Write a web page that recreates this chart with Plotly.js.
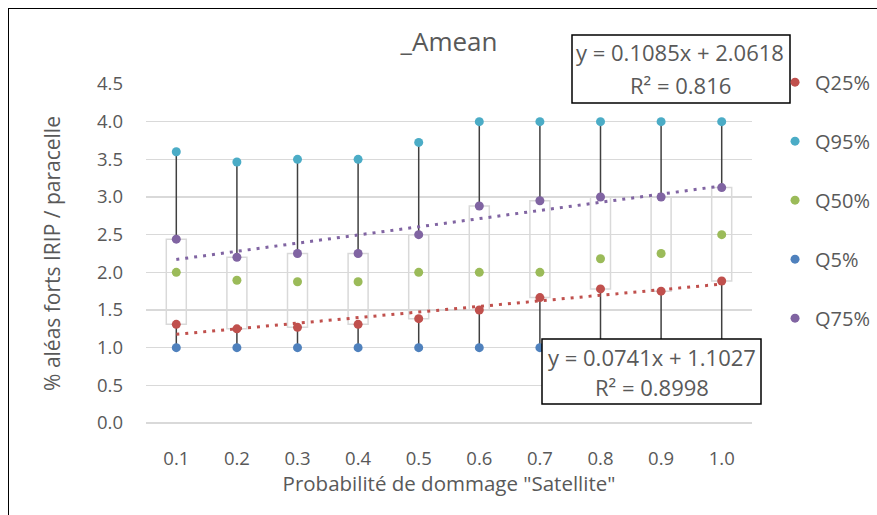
<!DOCTYPE html>
<html>
<head>
<meta charset="utf-8">
<script src="https://cdn.plot.ly/plotly-3.0.1.min.js"></script>
<style>
  html, body { margin: 0; padding: 0; background: #fff; }
  #wrap { position: relative; width: 877px; height: 515px; overflow: hidden; }
  #chart { width: 877px; height: 515px; }
  #frame { position: absolute; left: 8px; top: 8px; width: 900px; height: 540px;
           border: 1.5px solid #000; pointer-events: none; box-sizing: border-box; }
</style>
</head>
<body>
<div id="wrap">
  <div id="chart"></div>
  <div id="frame"></div>
</div>
<script>
// ---- data ----
const categories = ["0.1", "0.2", "0.3", "0.4", "0.5", "0.6", "0.7", "0.8", "0.9", "1.0"];
const q5  = [1.0, 1.0, 1.0, 1.0, 1.0, 1.0, 1.0, 1.0, 1.0, 1.0];
const q25 = [1.31, 1.25, 1.27, 1.31, 1.385, 1.50, 1.665, 1.78, 1.75, 1.885];
const q50 = [2.0, 1.895, 1.875, 1.875, 2.0, 2.0, 2.0, 2.18, 2.25, 2.5];
const q75 = [2.44, 2.20, 2.25, 2.25, 2.50, 2.88, 2.95, 3.0, 3.0, 3.125];
const q95 = [3.60, 3.465, 3.50, 3.50, 3.725, 4.0, 4.0, 4.0, 4.0, 4.0];
// Excel trendlines (x = category index 1..10), as printed on the chart
const trendNames = ["Q75%", "Q25%"];
const trendSlope = [0.1085, 0.0741];
const trendIntercept = [2.0618, 1.1027];
const trendR2 = ["0.816", "0.8998"];
const seriesNames = ["Q25%", "Q95%", "Q50%", "Q5%", "Q75%"];

// ---- styling ----
const col = { "Q25%": "#C0504D", "Q95%": "#4BACC6", "Q50%": "#9BBB59", "Q5%": "#4F81BD", "Q75%": "#8064A2" };
const seriesData = { "Q25%": q25, "Q95%": q95, "Q50%": q50, "Q5%": q5, "Q75%": q75 };
const txt = "#595959";
const FONT = "Open Sans, Noto Sans, sans-serif";

const traces = [];

// up-down boxes (Q25 -> Q75), outline only
traces.push({
  type: "bar", x: categories, base: q25, y: q75.map((v, i) => v - q25[i]),
  width: 0.33, marker: { color: "rgba(0,0,0,0)", line: { color: "#d9d9d9", width: 1.5 } },
  showlegend: false, hoverinfo: "skip"
});

// whiskers: Q75 -> Q95 and Q5 -> Q25
const wx = [], wy = [];
categories.forEach((c, i) => {
  wx.push(c, c, null, c, c, null);
  wy.push(q75[i], q95[i], null, q5[i], q25[i], null);
});
traces.push({
  type: "scatter", mode: "lines", x: wx, y: wy,
  line: { color: "#404040", width: 1.5 }, showlegend: false, hoverinfo: "skip"
});

// trendlines
trendNames.forEach((n, k) => {
  traces.push({
    type: "scatter", mode: "lines", x: categories,
    y: categories.map((c, i) => trendSlope[k] * (i + 1) + trendIntercept[k]),
    line: { color: col[n], width: 3, dash: "3px,6px" }, showlegend: false, hoverinfo: "skip"
  });
});

// marker series
seriesNames.forEach(n => {
  traces.push({
    type: "scatter", mode: "markers", name: n, legendgroup: n,
    x: categories, y: seriesData[n],
    marker: { color: col[n], size: 9 }
  });
});

const eqText = k => "y = " + trendSlope[k] + "x + " + trendIntercept[k];

const layout = {
  width: 877, height: 515,
  margin: { l: 146, r: 125, t: 84, b: 92, autoexpand: false },
  paper_bgcolor: "#fff", plot_bgcolor: "#fff",
  font: { family: FONT, color: txt, size: 18 },
  title: { text: "_Amean", font: { family: FONT, size: 26, color: txt },
           x: 0.5, xref: "paper", xanchor: "center", y: 1 - 42 / 515, yanchor: "middle" },
  showlegend: true,
  legend: { x: 1.038, y: 1.063, xanchor: "left", yanchor: "top", maxheight: 420,
            font: { family: FONT, size: 20, color: txt },
            tracegroupgap: 30, itemwidth: 30, bgcolor: "rgba(0,0,0,0)" },
  xaxis: {
    type: "category", range: [-0.5, 9.5], showgrid: false, zeroline: false, showline: false,
    ticks: "", ticklabelstandoff: 22, tickfont: { family: FONT, size: 18.5, color: txt },
    title: { text: "Probabilité de dommage \"Satellite\"", font: { family: FONT, size: 20.5, color: txt }, standoff: 6 }
  },
  yaxis: {
    range: [0, 4.5], dtick: 0.5, tickformat: ".1f",
    showgrid: true, gridcolor: "#d9d9d9", gridwidth: 1.3,
    zeroline: true, zerolinecolor: "#d9d9d9", zerolinewidth: 1.3, showline: false,
    ticks: "", ticklabelstandoff: 22, tickfont: { family: FONT, size: 18.5, color: txt },
    title: { text: "% aléas forts IRIP / paracelle", font: { family: FONT, size: 21, color: txt }, standoff: 30 }
  },
  shapes: [
    { type: "rect", xref: "paper", yref: "paper", layer: "above",
      x0: (572 - 146) / 606, x1: (790 - 146) / 606, y0: (423 - 103) / 339, y1: (423 - 35) / 339,
      line: { color: "#000", width: 1.5 }, fillcolor: "#fff" },
    { type: "rect", xref: "paper", yref: "paper", layer: "above",
      x0: (542 - 146) / 606, x1: (761 - 146) / 606, y0: (423 - 404) / 339, y1: (423 - 339) / 339,
      line: { color: "#000", width: 1.5 }, fillcolor: "#fff" }
  ],
  annotations: [
    { xref: "paper", yref: "paper", x: (680 - 146) / 606, y: (423 - 52) / 339, showarrow: false,
      text: eqText(0), font: { family: FONT, size: 22, color: txt }, xanchor: "center", yanchor: "middle" },
    { xref: "paper", yref: "paper", x: (680 - 146) / 606, y: (423 - 85) / 339, showarrow: false,
      text: "R² = " + trendR2[0], font: { family: FONT, size: 22, color: txt }, xanchor: "center", yanchor: "middle" },
    { xref: "paper", yref: "paper", x: (651.5 - 146) / 606, y: (423 - 357) / 339, showarrow: false,
      text: eqText(1), font: { family: FONT, size: 22, color: txt }, xanchor: "center", yanchor: "middle" },
    { xref: "paper", yref: "paper", x: (651.5 - 146) / 606, y: (423 - 387) / 339, showarrow: false,
      text: "R² = " + trendR2[1], font: { family: FONT, size: 22, color: txt }, xanchor: "center", yanchor: "middle" }
  ]
};

Plotly.newPlot("chart", traces, layout, { displayModeBar: false, staticPlot: true });
</script>
</body>
</html>
